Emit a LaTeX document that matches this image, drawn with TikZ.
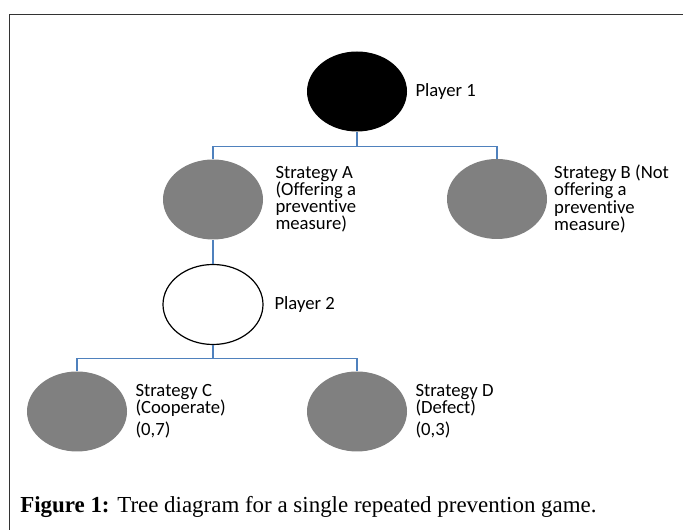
\documentclass[tikz,border=0pt]{standalone}
\usepackage{fontspec}
\setmainfont{Liberation Serif}
\newfontfamily\labelfont[Ligatures=NoCommon]{Carlito}
\usetikzlibrary{shapes.geometric,positioning}
\definecolor{linkblue}{HTML}{4F81BD}
\definecolor{nodegray}{HTML}{808080}
\begin{document}
\begin{tikzpicture}[
  x=0.75pt, y=-0.75pt,
  node/.style={
    ellipse,
    minimum width=75pt,
    minimum height=60pt,
    inner sep=0pt
  },
  node_black/.style={
    node,
    fill=black
  },
  node_gray/.style={
    node,
    fill=nodegray
  },
  node_white/.style={
    node,
    draw=black,
    line width=0.9pt,
    fill=white
  },
  txt/.style={
    inner sep=0pt,
    align=left,
    font=\labelfont\fontsize{14}{12.8}\selectfont
  },
  link/.style={
    draw=linkblue,
    line width=1pt
  }
]%
\useasboundingbox (0,0) rectangle (683,530);
% frame
\draw [line width=1pt, black!80] (683,14.5) -- (9.5,14.5) -- (9.5,530);
% players and strategies
\node [node_black] (p1) at (357,91.5) {};
\node [node_gray]  (sa) at (213,199.5) {};
\node [node_gray]  (sb) at (497,199) {};
\node [node_white] (p2) at (213,304.5) {};
\node [node_gray]  (sc) at (77,411.5) {};
\node [node_gray]  (sd) at (357,411.5) {};
% labels
\node [txt, right=6pt of p1] (p1_lbl) {Player 1};
\node [txt, right=9pt of sa] (sa_lbl) {Strategy A\\(Offering a\\preventive\\measure)};
\node [txt, right=5pt of sb] (sb_lbl) {Strategy B (Not\\offering a\\preventive\\measure)};
\node [txt, right=8pt of p2] (p2_lbl) {Player 2};
\node [txt, right=6pt of sc] (sc_lbl) {Strategy C\\(Cooperate)\\[4pt](0,7)};
\node [txt, right=6pt of sd] (sd_lbl) {Strategy D\\(Defect)\\[4pt](0,3)};
% branches
\draw [link] (p1.south) -- ++(0,15) -| (sa.north);
\draw [link] (p1.south) -- ++(0,15) -| (sb.north);
\draw [link] (sa.south) -- (p2.north);
\draw [link] (p2.south) -- ++(0,13.5) -| (sc.north);
\draw [link] (p2.south) -- ++(0,13.5) -| (sd.north);
% caption
\node [anchor=base west, inner sep=0pt, font=\fontsize{17.2}{20}\selectfont] (caption) at (20,513)
  {\textbf{Figure 1:} Tree diagram for a single repeated prevention game.};
\end{tikzpicture}
\end{document}
